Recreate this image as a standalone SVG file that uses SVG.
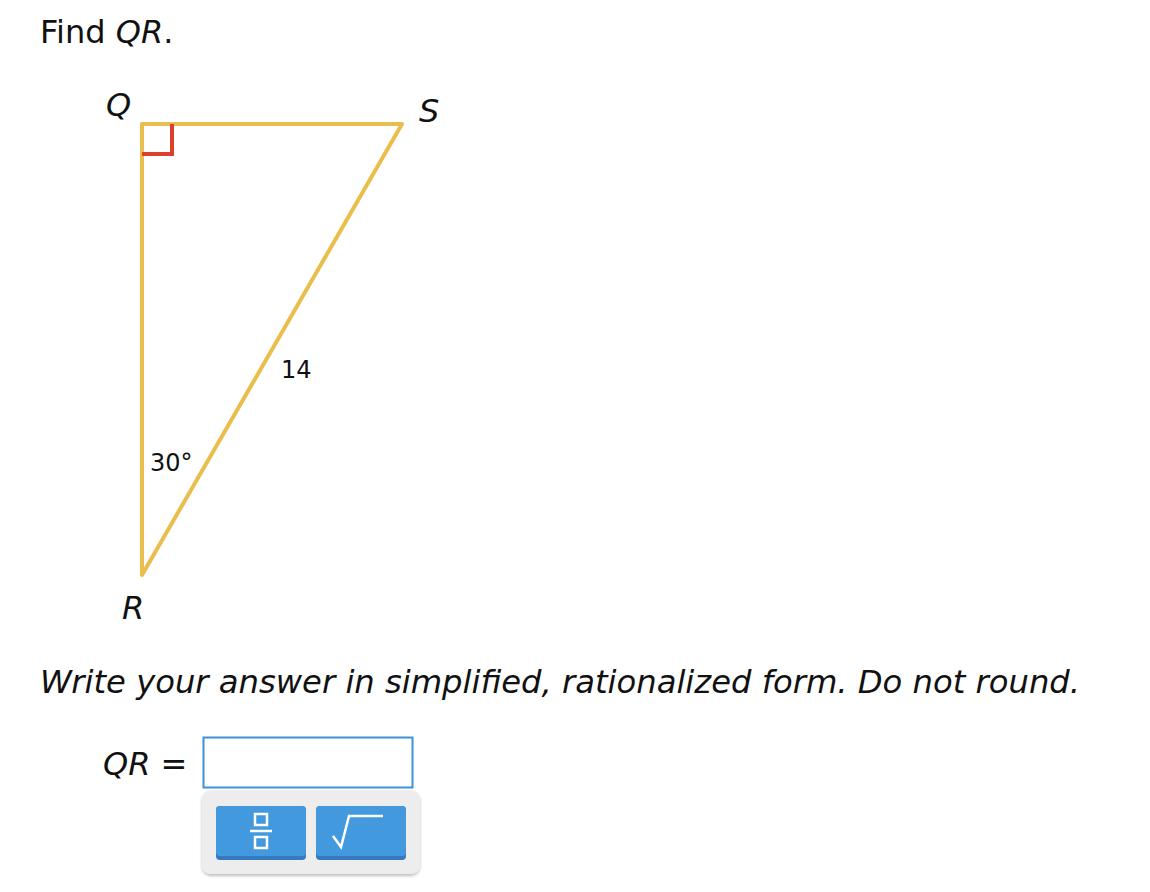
<svg xmlns="http://www.w3.org/2000/svg" width="1150" height="892" viewBox="0 0 1150 892">
<style>
.t{font-family:"DejaVu Sans","Verdana",sans-serif;fill:#111}
.i{font-style:italic}
.edge{stroke:#E9BE4C;stroke-width:4;fill:none;stroke-linecap:round;stroke-linejoin:round}
.btn{fill:#4299DD}
.btnb{fill:#3579BF}
.ico{stroke:#fff;stroke-width:2.5;fill:none}
</style>
<defs>
<filter id="sh" x="-10%" y="-10%" width="120%" height="130%">
<feDropShadow dx="0" dy="2" stdDeviation="1.5" flood-color="#000" flood-opacity="0.25"/>
</filter>
</defs>
<rect width="1150" height="892" fill="#fff"/>
<text class="t" x="40" y="43" font-size="32">Find <tspan class="i">QR</tspan>.</text>
<g id="connectors">
<path class="edge" d="M142,124 L402,124 L142,575 Z"/>
</g>
<g id="rightangle"><path d="M142,154 L172,154 L172,124" stroke="#DC3F2C" stroke-width="4" fill="none"/></g>
<g id="Q"><text class="t i" x="106" y="116" font-size="32">Q</text></g>
<g id="S"><text class="t i" x="419" y="122" font-size="32">S</text></g>
<g id="R"><text class="t i" x="122" y="619" font-size="32">R</text></g>
<g id="len"><text class="t" x="281" y="378" font-size="24">14</text></g>
<g id="ang"><text class="t" x="150" y="471" font-size="24">30°</text></g>
<text class="t i" x="40" y="693" font-size="32" textLength="1040" lengthAdjust="spacingAndGlyphs">Write your answer in simplified, rationalized form. Do not round.</text>
<g id="answer">
<text class="t" x="103" y="775" font-size="32"><tspan class="i">QR</tspan> =</text>
<rect x="203.5" y="737.5" width="209" height="50" fill="#fff" stroke="#3E92D8" stroke-width="2"/>
</g>
<g id="keypad">
<rect x="202" y="790" width="218" height="84" rx="9" fill="#EDEDED" filter="url(#sh)"/>
<rect x="216" y="806" width="90" height="54" rx="4" class="btnb"/>
<rect x="216" y="806" width="90" height="50" rx="4" class="btn"/>
<rect x="316" y="806" width="90" height="54" rx="4" class="btnb"/>
<rect x="316" y="806" width="90" height="50" rx="4" class="btn"/>
<rect x="255" y="814" width="12" height="11" class="ico"/>
<line x1="250" y1="831" x2="272" y2="831" class="ico"/>
<rect x="255" y="837" width="12" height="11" class="ico"/>
<path d="M333,836 L341,847 L349,816 L383,816" class="ico" stroke-width="3"/>
</g>
</svg>
